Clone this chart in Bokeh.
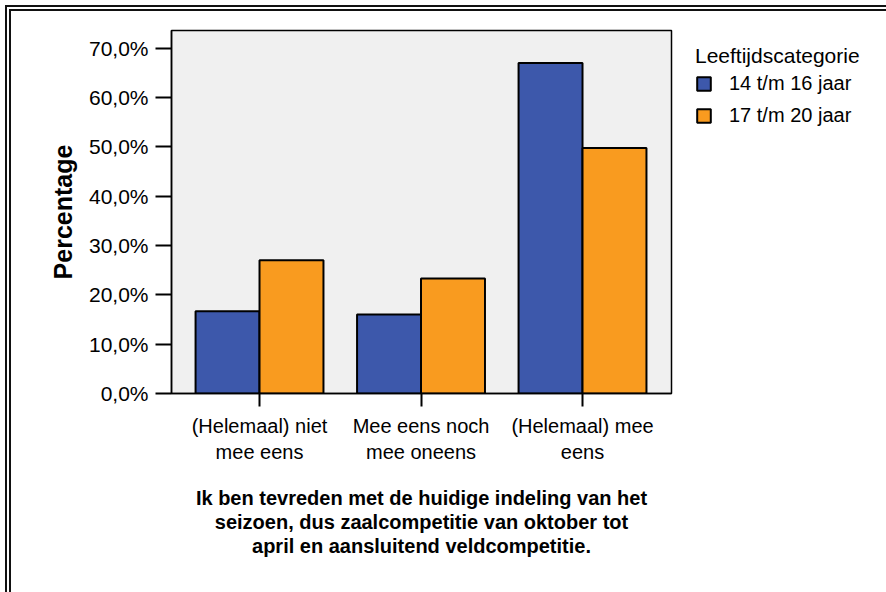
from bokeh.plotting import figure
from bokeh.models import (Range1d, FixedTicker, Legend, LegendItem, ColumnDataSource, Title)
from bokeh.embed import file_html
from bokeh.resources import INLINE

categories = ["(Helemaal) niet\nmee eens", "Mee eens noch\nmee oneens", "(Helemaal) mee\neens"]
series_names = ["14 t/m 16 jaar", "17 t/m 20 jaar"]
values_14_16 = [16.7, 16.0, 67.0]
values_17_20 = [27.0, 23.3, 49.8]
y_ticks = [0, 10, 20, 30, 40, 50, 60, 70]
y_tick_labels = ["0,0%", "10,0%", "20,0%", "30,0%", "40,0%", "50,0%", "60,0%", "70,0%"]
caption_lines = ["Ik ben tevreden met de huidige indeling van het",
                 "seizoen, dus zaalcompetitie van oktober tot",
                 "april en aansluitend veldcompetitie."]
legend_title = "Leeftijdscategorie"

FONT = "Liberation Sans"
BLUE = "#3d58ab"
ORANGE = "#f99b1f"

xs = list(range(1, len(categories) + 1))
src1 = ColumnDataSource(dict(x=[x - 0.198 for x in xs], top=values_14_16))
src2 = ColumnDataSource(dict(x=[x + 0.198 for x in xs], top=values_17_20))

p = figure(frame_width=500, frame_height=363, output_backend="svg", toolbar_location=None,
           x_range=Range1d(0.455, 3.551), y_range=Range1d(0, 73.6),
           min_border_left=160, min_border_right=215, min_border_top=19, min_border_bottom=199,
           margin=(5, 0, 0, 5),
           styles={"border-left": "6px double #111", "border-top": "6px double #111"})
p.background_fill_color = "#f0f0f0"
p.border_fill_color = "white"
p.outline_line_color = "black"
p.outline_line_width = 1.5
p.grid.visible = False

r1 = p.vbar(x="x", top="top", width=0.396, source=src1, fill_color=BLUE,
            line_color="black", line_width=2)
r2 = p.vbar(x="x", top="top", width=0.396, source=src2, fill_color=ORANGE,
            line_color="black", line_width=2)

# y axis
ya = p.yaxis[0]
ya.ticker = FixedTicker(ticks=y_ticks)
ya.major_label_overrides = {t: l for t, l in zip(y_ticks, y_tick_labels)}
ya.major_tick_out = 16
ya.major_tick_in = 0
ya.major_tick_line_width = 2
ya.major_tick_line_color = "black"
ya.minor_tick_line_color = None
ya.axis_line_color = "black"
ya.axis_line_width = 1.5
ya.major_label_text_font = FONT
ya.major_label_text_font_size = "21px"
ya.major_label_text_color = "black"
ya.major_label_standoff = 7
ya.axis_label = "Percentage"
ya.axis_label_text_font = FONT
ya.axis_label_text_font_style = "bold"
ya.axis_label_text_font_size = "25px"
ya.axis_label_text_color = "black"
ya.axis_label_standoff = 9

# x axis
xa = p.xaxis[0]
xa.ticker = FixedTicker(ticks=xs)
xa.major_label_overrides = {x: c for x, c in zip(xs, categories)}
xa.major_tick_out = 13
xa.major_tick_in = 0
xa.major_tick_line_width = 2
xa.major_tick_line_color = "black"
xa.minor_tick_line_color = None
xa.axis_line_color = "black"
xa.axis_line_width = 1.5
xa.major_label_text_font = FONT
xa.major_label_text_font_size = "20px"
xa.major_label_text_color = "black"
xa.major_label_standoff = 8
# blank axis label used only as vertical spacing before the caption
xa.axis_label = " "
xa.axis_label_text_font_size = "14px"
xa.axis_label_standoff = 0

# caption lines below the axis
for line in caption_lines:
    p.add_layout(Title(text=line, align="center", text_font=FONT, text_font_style="bold",
                       text_font_size="20px", text_color="black",
                       standoff=0, offset=0), "below")

legend = Legend(items=[LegendItem(label=series_names[0], renderers=[r1]),
                       LegendItem(label=series_names[1], renderers=[r2])],
                title=legend_title, location=(24, 266),
                margin=0, padding=0, spacing=9,
                glyph_width=17, glyph_height=17, label_height=20, label_standoff=17,
                label_text_font=FONT, label_text_font_size="20px", label_text_color="black",
                title_text_font=FONT, title_text_font_size="21px", title_text_color="black",
                title_text_font_style="normal", title_standoff=4,
                border_line_color=None, background_fill_alpha=0)
p.add_layout(legend, "right")

open("out.html", "w").write(file_html(p, INLINE))
